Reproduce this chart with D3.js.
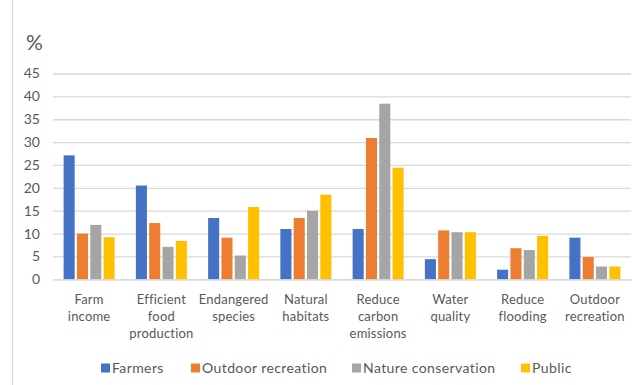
<!DOCTYPE html>
<html>
<head>
<meta charset="utf-8">
<script src="https://cdn.jsdelivr.net/npm/d3@7"></script>
<style>
  html, body { margin: 0; padding: 0; background: #fff; }
  svg { display: block; }
  text { font-family: Lato, "Liberation Sans", sans-serif; fill: #595959; }
</style>
</head>
<body>
<svg id="chart" width="641" height="385"></svg>
<script>
// Share (%) of each group ranking each benefit
const categories = [
  "Farm income", "Efficient food production", "Endangered species", "Natural habitats",
  "Reduce carbon emissions", "Water quality", "Reduce flooding", "Outdoor recreation"
];
// Category labels split into lines as shown under the axis
const categoryLines = [
  ["Farm", "income"], ["Efficient", "food", "production"], ["Endangered", "species"],
  ["Natural", "habitats"], ["Reduce", "carbon", "emissions"], ["Water", "quality"],
  ["Reduce", "flooding"], ["Outdoor", "recreation"]
];
const seriesNames = ["Farmers", "Outdoor recreation", "Nature conservation", "Public"];
const farmers            = [27.1, 20.5, 13.4, 11.0, 11.0, 4.4, 2.1, 9.1];
const outdoorRecreation  = [10.0, 12.3,  9.1, 13.4, 30.9, 10.7, 6.8, 4.9];
const natureConservation = [11.9,  7.1,  5.2, 15.0, 38.4, 10.3, 6.4, 2.8];
const publicValues       = [ 9.2,  8.4, 15.8, 18.5, 24.4, 10.3, 9.5, 2.8];
const yTicks = [0, 5, 10, 15, 20, 25, 30, 35, 40, 45];
const colors = ["#4472C4", "#ED7D31", "#A5A5A5", "#FFC000"];

const seriesValues = [farmers, outdoorRecreation, natureConservation, publicValues];

const svg = d3.select("#chart");

// outer frame edge on the left
svg.append("line")
  .attr("x1", 12.5).attr("x2", 12.5).attr("y1", 0).attr("y2", 385)
  .attr("stroke", "#d9d9d9").attr("stroke-width", 1);

const y = d3.scaleLinear().domain([0, 45]).range([279.3, 73.5]);
const x0 = d3.scaleBand().domain(categories).range([53, 631])
  .paddingInner(0.294).paddingOuter(0.147);
const x1 = d3.scaleBand().domain(seriesNames).range([0, x0.bandwidth()])
  .paddingInner(0.17);

// gridlines and tick labels
const yAxis = d3.axisLeft(y).tickValues(yTicks).tickSize(-(631 - 53)).tickPadding(13);
const gy = svg.append("g").attr("transform", "translate(53,0)").call(yAxis);
gy.select(".domain").remove();
gy.selectAll(".tick line").attr("stroke", "#d9d9d9").attr("stroke-width", 1.3);
gy.selectAll(".tick text").attr("font-size", 14).style("fill", "#595959");

// bars
const groups = svg.append("g").selectAll("g")
  .data(categories)
  .join("g")
  .attr("transform", d => `translate(${x0(d)},0)`);

groups.selectAll("rect")
  .data((c, i) => seriesNames.map((s, j) => ({ s, v: seriesValues[j][i], j })))
  .join("rect")
  .attr("x", d => x1(d.s))
  .attr("width", x1.bandwidth())
  .attr("y", d => y(d.v))
  .attr("height", d => y(0) - y(d.v))
  .attr("fill", d => colors[d.j]);

// category labels
const gx = svg.append("g").attr("transform", `translate(0,${y(0)})`)
  .call(d3.axisBottom(x0).tickSize(0).tickFormat(""));
gx.select(".domain").attr("stroke", "#d9d9d9").attr("stroke-width", 1.3);
gx.selectAll(".tick").each(function (d, i) {
  const t = d3.select(this).append("text")
    .attr("text-anchor", "middle")
    .attr("font-size", 13)
    .attr("letter-spacing", 0.2);
  categoryLines[i].forEach((line, k) => {
    t.append("tspan").attr("x", 0).attr("y", 25 + k * 17).text(line);
  });
});

// unit label
svg.append("text").attr("x", 26).attr("y", 50).attr("font-size", 21).text("%");

// legend
const legendX = [101, 191, 352, 521];
const legend = svg.append("g").selectAll("g")
  .data(seriesNames)
  .join("g")
  .attr("transform", (d, i) => `translate(${legendX[i]},368)`);
legend.append("rect").attr("x", 0).attr("y", -4.5).attr("width", 9).attr("height", 9)
  .attr("fill", (d, i) => colors[i]);
legend.append("text").attr("x", 11).attr("y", 5).attr("font-size", 14)
  .attr("letter-spacing", 0.4).text(d => d);
</script>
</body>
</html>
